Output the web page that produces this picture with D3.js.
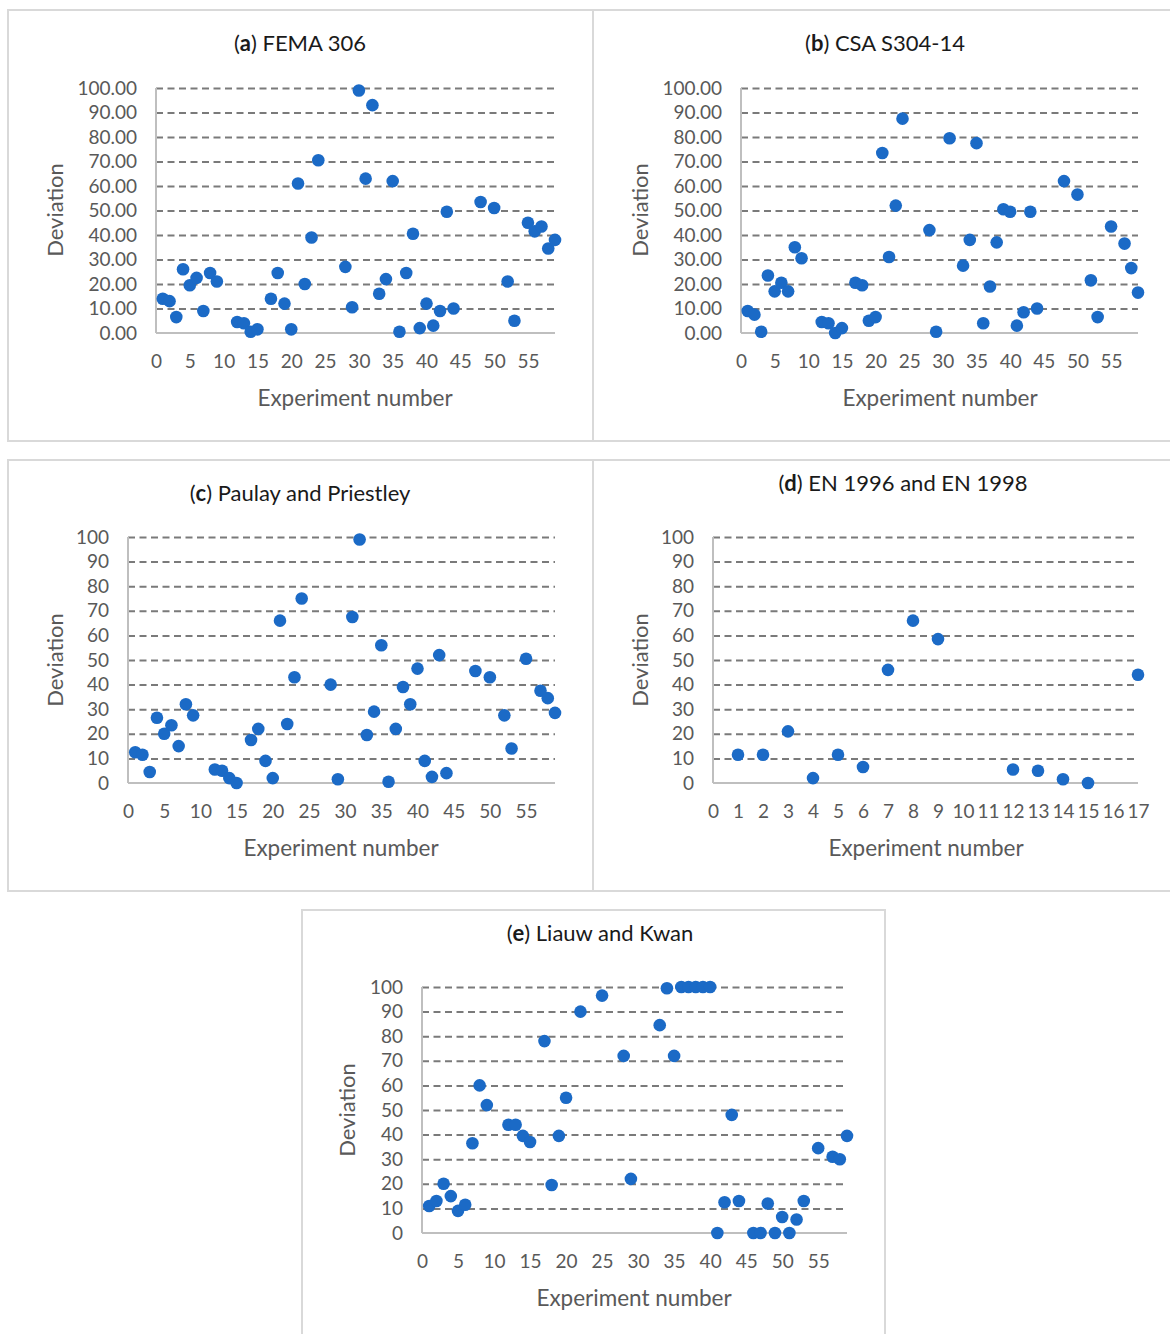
<!DOCTYPE html>
<html>
<meta charset="utf-8">
<script src="https://cdn.jsdelivr.net/npm/d3@7"></script>
<style>
  body { margin: 0; background: #fff; }
  text { font-family: Lato, "Open Sans", sans-serif; }
</style>
<body>
<div id="plot_area"></div>
</body>
<script>

// (a) FEMA 306
var expA = [1,2,3,4,5,6,7,8,9,12,13,14,15,17,18,19,20,21,22,23,24,28,29,30,31,32,33,34,35,36,37,38,39,40,41,42,43,44,48,50,52,53,55,56,57,58,59];
var devA = [14,13,6.5,26,19.5,22.5,9,24.5,21,4.5,4,0.5,1.5,14,24.5,12,1.5,61,20,39,70.5,27,10.5,99,63,93,16,22,62,0.5,24.5,40.5,2,12,3,9,49.5,10,53.5,51,21,5,45,41.5,43.5,34.5,38];

// (b) CSA S304-14
var expB = [1,2,3,4,5,6,7,8,9,12,13,14,15,17,18,19,20,21,22,23,24,28,29,31,33,34,35,36,37,38,39,40,41,42,43,44,48,50,52,53,55,57,58,59];
var devB = [9,7.5,0.5,23.5,17,20.5,17,35,30.5,4.5,4,0,2,20.5,19.5,5,6.5,73.5,31,52,87.5,42,0.5,79.5,27.5,38,77.5,4,19,37,50.5,49.5,3,8.5,49.5,10,62,56.5,21.5,6.5,43.5,36.5,26.5,16.5];

// (c) Paulay and Priestley
var expC = [1,2,3,4,5,6,7,8,9,12,13,14,15,17,18,19,20,21,22,23,24,28,29,31,32,33,34,35,36,37,38,39,40,41,42,43,44,48,50,52,53,55,57,58,59];
var devC = [12.5,11.5,4.5,26.5,20,23.5,15,32,27.5,5.5,5,2,0,17.5,22,9,2,66,24,43,75,40,1.5,67.5,99,19.5,29,56,0.5,22,39,32,46.5,9,2.5,52,4,45.5,43,27.5,14,50.5,37.5,34.5,28.5];

// (d) EN 1996 and EN 1998
var expD = [1,2,3,4,5,6,7,8,9,12,13,14,15,17];
var devD = [11.5,11.5,21,2,11.5,6.5,46,66,58.5,5.5,5,1.5,0,44];

// (e) Liauw and Kwan
var expE = [1,2,3,4,5,6,7,8,9,12,13,14,15,17,18,19,20,22,25,28,29,33,34,35,36,37,38,39,40,41,42,43,44,46,47,48,49,50,51,52,53,55,57,58,59];
var devE = [11,13,20,15,9,11.5,36.5,60,52,44,44,39.5,37,78,19.5,39.5,55,90,96.5,72,22,84.5,99.5,72,100,100,100,100,100,0,12.5,48,13,0,0,12,0,6.5,0,5.5,13,34.5,31,30,39.5];

var letters = ["a", "b", "c", "d", "e"];
var titles = ["FEMA 306", "CSA S304-14", "Paulay and Priestley", "EN 1996 and EN 1998", "Liauw and Kwan"];
var yTicks = [0,10,20,30,40,50,60,70,80,90,100];
var xTicksLong = [0,5,10,15,20,25,30,35,40,45,50,55];
var xTicksShort = [0,1,2,3,4,5,6,7,8,9,10,11,12,13,14,15,16,17];

var svg = d3.select("#plot_area")
  .append("svg")
    .attr("width", 1170)
    .attr("height", 1334);

svg.append("rect").attr("width", 1170).attr("height", 1334).attr("fill", "#fff");

// panel layout: frame box, plot box, label positions
var panels = [
  {box: [8, 10, 585, 431], px: [156, 555], py: [333, 88], xMax: 59, xt: xTicksLong, fmt: d3.format(".2f"),
   title: [300, 51], dev: [55, 210], exp: [355, 406], ex: expA, dv: devA},
  {box: [593, 10, 590, 431], px: [741, 1138], py: [333, 88], xMax: 59, xt: xTicksLong, fmt: d3.format(".2f"),
   title: [885, 51], dev: [640, 210], exp: [940, 406], ex: expB, dv: devB},
  {box: [8, 460, 585, 431], px: [128, 555], py: [783, 537], xMax: 59, xt: xTicksLong, fmt: d3.format("d"),
   title: [300, 501], dev: [55, 660], exp: [341, 856], ex: expC, dv: devC},
  {box: [593, 460, 590, 431], px: [713, 1138], py: [783, 537], xMax: 17, xt: xTicksShort, fmt: d3.format("d"),
   title: [903, 491], dev: [640, 660], exp: [926, 856], ex: expD, dv: devD},
  {box: [302, 910, 583, 440], px: [422, 847], py: [1233, 987], xMax: 59, xt: xTicksLong, fmt: d3.format("d"),
   title: [600, 941], dev: [347, 1110], exp: [634, 1306], ex: expE, dv: devE}
];

panels.forEach(function(p, i) {
  var g = svg.append("g");

  g.append("rect")
    .attr("x", p.box[0]).attr("y", p.box[1])
    .attr("width", p.box[2]).attr("height", p.box[3])
    .attr("fill", "none")
    .attr("stroke", "#d9d9d9")
    .attr("stroke-width", 2);

  var x = d3.scaleLinear().domain([0, p.xMax]).range(p.px);
  var y = d3.scaleLinear().domain([0, 100]).range(p.py);
  var w = p.px[1] - p.px[0];

  // dashed gridlines
  g.append("g")
    .attr("transform", "translate(" + p.px[0] + ",0)")
    .call(d3.axisLeft(y).tickValues(yTicks.slice(1)).tickSize(-w).tickFormat(""))
    .call(function(a) {
      a.select(".domain").remove();
      a.selectAll("line")
        .attr("stroke", "#7a7a7a")
        .attr("stroke-width", 2)
        .attr("stroke-dasharray", "7,4.5");
    });

  // axis lines
  g.append("line")
    .attr("x1", p.px[0]).attr("x2", p.px[0])
    .attr("y1", p.py[0]).attr("y2", p.py[1])
    .attr("stroke", "#bfbfbf").attr("stroke-width", 2);
  g.append("line")
    .attr("x1", p.px[0]).attr("x2", p.px[1])
    .attr("y1", p.py[0]).attr("y2", p.py[0])
    .attr("stroke", "#bfbfbf").attr("stroke-width", 2);

  // tick labels
  g.append("g")
    .attr("transform", "translate(" + p.px[0] + ",0)")
    .call(d3.axisLeft(y).tickValues(yTicks).tickSize(0).tickPadding(19).tickFormat(p.fmt))
    .call(function(a) {
      a.select(".domain").remove();
      a.selectAll("text").attr("fill", "#595959").style("font-size", "19px");
    });

  g.append("g")
    .attr("transform", "translate(0," + p.py[0] + ")")
    .call(d3.axisBottom(x).tickValues(p.xt).tickSize(0).tickPadding(22).tickFormat(d3.format("d")))
    .call(function(a) {
      a.select(".domain").remove();
      a.selectAll("text").attr("fill", "#595959").style("font-size", "19px");
    });

  // titles
  var t = g.append("text")
    .attr("x", p.title[0]).attr("y", p.title[1])
    .attr("text-anchor", "middle")
    .attr("fill", "#1a1a1a")
    .style("font-size", "22px");
  t.append("tspan").text("(");
  t.append("tspan").attr("font-weight", "bold").text(letters[i]);
  t.append("tspan").text(") " + titles[i]);

  g.append("text")
    .attr("transform", "translate(" + (p.dev[0] + 8) + "," + p.dev[1] + ") rotate(-90)")
    .attr("text-anchor", "middle")
    .attr("fill", "#595959")
    .style("font-size", "22px")
    .text("Deviation");

  g.append("text")
    .attr("x", p.exp[0]).attr("y", p.exp[1])
    .attr("text-anchor", "middle")
    .attr("fill", "#595959")
    .style("font-size", "22.5px")
    .text("Experiment number");

  // points
  g.append("g")
    .selectAll("circle")
    .data(p.ex)
    .enter()
    .append("circle")
      .attr("cx", function(d) { return x(d); })
      .attr("cy", function(d, k) { return y(p.dv[k]); })
      .attr("r", 6.3)
      .attr("fill", "#1b6ac6");
});

</script>
</html>
